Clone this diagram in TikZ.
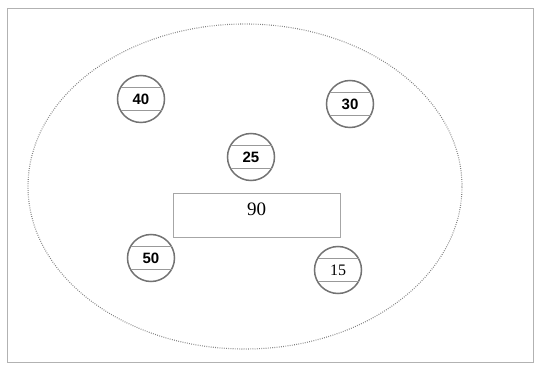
\documentclass[tikz,border=0pt]{standalone}
\usepackage{fontspec}
\setmainfont{Liberation Serif}
\setsansfont{Liberation Sans}
\usetikzlibrary{shapes.geometric}
\begin{document}
\begin{tikzpicture}[x=1pt,y=-1pt,
  frame/.style={draw=black!30, line width=0.6pt},
  region/.style={draw=black!50, line width=1.1pt, dash pattern=on 0.8pt off 1.4pt},
  ring/.style={circle, draw=black!55, line width=1.5pt, minimum size=47pt, inner sep=0pt},
  sanslabel/.style={font=\sffamily\bfseries\fontsize{15}{17}\selectfont},
  seriflabel/.style={font=\fontsize{16}{18}\selectfont},
  chord/.style={draw=black!40, line width=0.8pt},
  valbox/.style={draw=black!35, line width=0.7pt, minimum width=167pt, minimum height=44pt, inner sep=0pt}]
\useasboundingbox (0,0) rectangle (536,366);
% outer frame
\draw[frame] (7,8) rectangle (533,362);
% dotted region
\node[region, ellipse, minimum width=434pt, minimum height=325pt, inner sep=0pt] (reg) at (245,186.5) {};
% central value box
\node[valbox] (box) at (256.5,215) {};
\node[font=\fontsize{19}{21}\selectfont, anchor=center] (v90) at (256.5,209) {90};
% circled values
\node[ring] (c40) at (141,99) {};
\node[ring] (c30) at (350,104) {};
\node[ring] (c25) at (251,157) {};
\node[ring] (c50) at (151,258) {};
\node[ring] (c15) at (338,270) {};
\foreach \c in {c40,c30,c25,c50,c15}{
  \draw[chord] ([shift={(-20.5,-11.5)}]\c.center) -- ([shift={(20.5,-11.5)}]\c.center);
  \draw[chord] ([shift={(-20.5,11.5)}]\c.center) -- ([shift={(20.5,11.5)}]\c.center);
}
\node[sanslabel] (t40) at (c40.center) {40};
\node[sanslabel] (t30) at (c30.center) {30};
\node[sanslabel] (t25) at (c25.center) {25};
\node[sanslabel] (t50) at (c50.center) {50};
\node[seriflabel] (t15) at (c15.center) {15};
\end{tikzpicture}
\end{document}
